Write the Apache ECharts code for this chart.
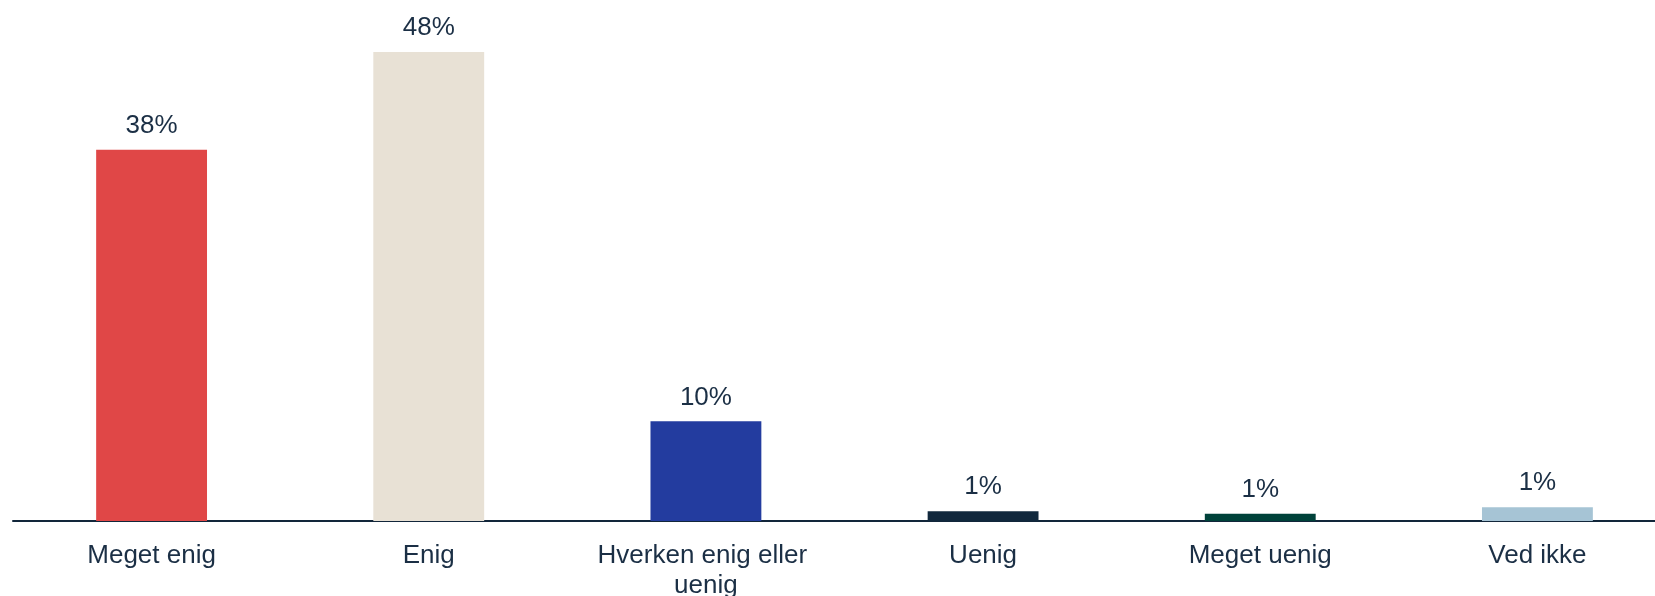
<!DOCTYPE html>
<html>
<head>
<meta charset="utf-8">
<script src="https://cdn.jsdelivr.net/npm/echarts@6/dist/echarts.min.js"></script>
<style>
html,body{margin:0;padding:0;background:#fff;}
#chart{width:1655px;height:596px;}
</style>
</head>
<body>
<div id="chart"></div>
<script>
const categories = ["Meget enig", "Enig", "Hverken enig eller uenig", "Uenig", "Meget uenig", "Ved ikke"];
const values = [38, 48, 10.2, 1.0, 0.75, 1.4];
const barColors = ["#E04747", "#E8E1D5", "#233C9F", "#11283D", "#00423A", "#A6C4D5"];

const textColor = "#1B2F45";
const font = "Liberation Sans, Arial, sans-serif";

const chart = echarts.init(document.getElementById('chart'), null, {renderer: 'canvas'});
chart.setOption({
  animation: false,
  backgroundColor: '#ffffff',
  grid: {left: 13, right: -21, top: 52, bottom: 75, containLabel: false, outerBoundsMode: 'none'},
  xAxis: {
    type: 'category',
    data: categories,
    axisLine: {show: true, lineStyle: {color: '#12263A', width: 2}},
    axisTick: {show: false},
    axisLabel: {
      color: textColor, fontFamily: font, fontSize: 26, lineHeight: 30,
      margin: 20, interval: 0, width: 270, overflow: 'break'
    }
  },
  yAxis: {
    type: 'value', min: 0, max: 48, show: false,
    splitLine: {show: false}
  },
  series: [{
    type: 'bar',
    barWidth: '40%',
    data: values.map((v, i) => ({value: v, itemStyle: {color: barColors[i]}})),
    label: {
      show: true, position: 'top', distance: 11,
      color: textColor, fontFamily: font, fontSize: 26,
      formatter: p => Math.round(p.value) + '%'
    }
  }]
});
</script>
</body>
</html>
